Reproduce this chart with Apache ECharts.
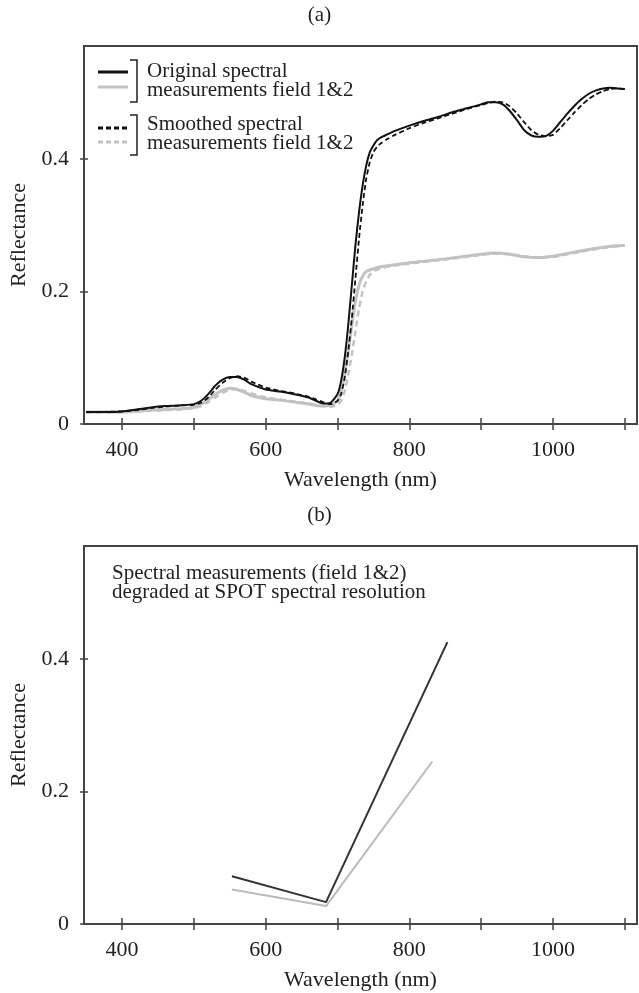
<!DOCTYPE html>
<html>
<head>
<meta charset="utf-8">
<script src="https://cdn.jsdelivr.net/npm/echarts@6/dist/echarts.min.js"></script>
<style>
  html, body { margin: 0; padding: 0; background: #fff; }
  #main { width: 639px; height: 993px; }
</style>
</head>
<body>
<div id="main"></div>
<script>
// wavelength (nm) and reflectance
var wlOrig1 = [350, 380, 400, 420, 440, 460, 480, 500, 510, 520, 530, 540, 550, 560, 570, 580, 600, 620, 640, 660, 670, 680, 690, 700, 705, 710, 715, 720, 725, 730, 735, 740, 745, 750, 755, 760, 770, 780, 800, 820, 840, 860, 880, 900, 910, 920, 930, 940, 950, 960, 970, 980, 990, 1000, 1010, 1020, 1030, 1040, 1050, 1060, 1070, 1080, 1090, 1100]
var orig1 = [0.018, 0.018, 0.019, 0.022, 0.025, 0.027, 0.028, 0.030, 0.035, 0.045, 0.058, 0.067, 0.071, 0.071, 0.067, 0.060, 0.052, 0.049, 0.045, 0.040, 0.035, 0.031, 0.032, 0.045, 0.065, 0.10, 0.15, 0.21, 0.27, 0.32, 0.36, 0.39, 0.41, 0.42, 0.428, 0.432, 0.437, 0.442, 0.450, 0.457, 0.463, 0.470, 0.476, 0.482, 0.485, 0.485, 0.482, 0.472, 0.458, 0.443, 0.435, 0.433, 0.434, 0.442, 0.455, 0.468, 0.480, 0.490, 0.498, 0.503, 0.506, 0.507, 0.506, 0.505]

var wlSmooth1 = [350, 400, 420, 440, 460, 480, 500, 510, 520, 530, 540, 550, 560, 570, 580, 600, 620, 640, 660, 670, 680, 690, 700, 705, 710, 715, 720, 725, 730, 735, 740, 745, 750, 755, 760, 770, 780, 800, 820, 840, 860, 880, 900, 910, 920, 930, 940, 950, 960, 970, 980, 990, 1000, 1010, 1020, 1030, 1040, 1050, 1060, 1070, 1080, 1090, 1100]
var smooth1 = [0.018, 0.019, 0.021, 0.024, 0.026, 0.028, 0.029, 0.032, 0.040, 0.052, 0.062, 0.069, 0.072, 0.070, 0.064, 0.055, 0.050, 0.046, 0.041, 0.037, 0.033, 0.030, 0.035, 0.045, 0.07, 0.11, 0.16, 0.22, 0.28, 0.33, 0.37, 0.395, 0.41, 0.418, 0.423, 0.430, 0.436, 0.446, 0.454, 0.461, 0.468, 0.475, 0.481, 0.484, 0.486, 0.485, 0.479, 0.468, 0.455, 0.443, 0.436, 0.434, 0.436, 0.446, 0.458, 0.470, 0.481, 0.490, 0.497, 0.502, 0.505, 0.506, 0.505]

var wlOrig2 = [350, 400, 440, 480, 500, 510, 520, 530, 540, 550, 560, 570, 580, 600, 620, 640, 660, 670, 680, 690, 700, 705, 710, 715, 720, 725, 730, 735, 740, 750, 760, 780, 800, 850, 900, 920, 940, 960, 980, 1000, 1020, 1050, 1080, 1100]
var orig2 = [0.018, 0.018, 0.021, 0.023, 0.025, 0.030, 0.037, 0.045, 0.051, 0.054, 0.052, 0.048, 0.043, 0.038, 0.036, 0.033, 0.030, 0.028, 0.027, 0.028, 0.035, 0.05, 0.075, 0.11, 0.15, 0.185, 0.21, 0.223, 0.23, 0.234, 0.237, 0.240, 0.243, 0.249, 0.256, 0.258, 0.256, 0.252, 0.251, 0.253, 0.257, 0.263, 0.268, 0.269]

var wlSmooth2 = [350, 400, 440, 480, 500, 510, 520, 530, 540, 550, 560, 570, 580, 600, 620, 640, 660, 670, 680, 690, 700, 705, 710, 715, 720, 725, 730, 735, 740, 745, 750, 760, 780, 800, 850, 900, 920, 940, 960, 980, 1000, 1020, 1050, 1080, 1100]
var smooth2 = [0.017, 0.018, 0.020, 0.022, 0.024, 0.027, 0.033, 0.040, 0.047, 0.052, 0.053, 0.050, 0.046, 0.040, 0.037, 0.034, 0.031, 0.029, 0.027, 0.026, 0.029, 0.035, 0.05, 0.075, 0.105, 0.14, 0.175, 0.20, 0.215, 0.225, 0.23, 0.235, 0.239, 0.242, 0.248, 0.255, 0.257, 0.256, 0.253, 0.251, 0.252, 0.256, 0.262, 0.267, 0.269]

// SPOT bands (b)
var wlSpot1 = [553, 684, 853]
var spot1 = [0.072, 0.033, 0.425]
var wlSpot2 = [553, 684, 832]
var spot2 = [0.052, 0.027, 0.245]

var xTicks = [400, 500, 600, 700, 800, 900, 1000, 1100]
var xLabels = [400, 600, 800, 1000]
var yTicks = [0, 0.2, 0.4]

var font = 'Liberation Serif'

function pairs(xs, ys) {
  var out = []
  for (var i = 0; i < xs.length; i++) {
    out.push([xs[i], ys[i]])
  }
  return out
}

// one pair of axes per grid: outer ticks + labels, and a second one for inner ticks
function makeX(grid, inner) {
  return {
    type: 'value', gridIndex: grid, min: 347, max: 1117, position: 'bottom',
    name: inner ? '' : 'Wavelength (nm)', nameLocation: 'middle', nameGap: 45,
    nameTextStyle: { fontFamily: font, fontSize: 22, color: '#222' },
    axisLine: { show: !inner, onZero: false, lineStyle: { color: '#444', width: 2 } },
    axisTick: { show: true, inside: inner, length: 6, customValues: xTicks, lineStyle: { color: '#444', width: 1.5 } },
    axisLabel: {
      show: !inner, customValues: xLabels, margin: 15, fontFamily: font, fontSize: 22, color: '#222',
      formatter: function (v) { return String(v) }
    },
    splitLine: { show: false }
  }
}

function makeY(grid, inner) {
  return {
    type: 'value', gridIndex: grid, min: 0, max: 0.57, position: 'left',
    name: inner ? '' : 'Reflectance', nameLocation: 'middle', nameGap: 52,
    nameTextStyle: { fontFamily: font, fontSize: 22, color: '#222' },
    axisLine: { show: !inner, lineStyle: { color: '#444', width: 2 } },
    axisTick: { show: true, inside: inner, length: 4, customValues: yTicks, lineStyle: { color: '#444', width: 1.5 } },
    axisLabel: { show: !inner, customValues: yTicks, margin: 15, fontFamily: font, fontSize: 22, color: '#222' },
    splitLine: { show: false }
  }
}

function lineSeries(name, xi, data, color, width, dash, smooth) {
  return {
    name: name, type: 'line', xAxisIndex: xi, yAxisIndex: xi,
    data: data, showSymbol: false, smooth: smooth || false, silent: true,
    lineStyle: { color: color, width: width, type: dash || 'solid' }
  }
}

function legendLine(y, color, width, dash) {
  return {
    type: 'line', shape: { x1: 98, y1: y, x2: 128, y2: y },
    style: { stroke: color, lineWidth: width, lineDash: dash || null }
  }
}

function bracket(y1, y2) {
  return {
    type: 'polyline', shape: { points: [[130, y1], [137, y1], [137, y2], [130, y2]] },
    style: { stroke: '#222', lineWidth: 1.5, fill: null }
  }
}

function label(x, y, text) {
  return {
    type: 'text', x: x, y: y,
    style: { text: text, fontFamily: font, fontSize: 21, fill: '#222', lineHeight: 19 }
  }
}

function setOption(chart) {
  var option = {
    animation: false,
    backgroundColor: '#fff',
    grid: [
      { left: 84, top: 46, width: 553, height: 378, show: true, borderColor: '#444', borderWidth: 2 },
      { left: 84, top: 546, width: 553, height: 378, show: true, borderColor: '#444', borderWidth: 2 }
    ],
    xAxis: [makeX(0, false), makeX(0, true), makeX(1, false), makeX(1, true)],
    yAxis: [makeY(0, false), makeY(0, true), makeY(1, false), makeY(1, true)],
    series: [
      lineSeries('orig2', 0, pairs(wlOrig2, orig2), '#c2c2c2', 3, null, 0.2),
      lineSeries('smooth2', 0, pairs(wlSmooth2, smooth2), '#c2c2c2', 2.5, [6, 4], 0.2),
      lineSeries('smooth1', 0, pairs(wlSmooth1, smooth1), '#111', 1.8, [5, 3], 0.2),
      lineSeries('orig1', 0, pairs(wlOrig1, orig1), '#111', 2, null, 0.2),
      lineSeries('spot2', 2, pairs(wlSpot2, spot2), '#bbb', 2),
      lineSeries('spot1', 2, pairs(wlSpot1, spot1), '#333', 2)
    ],
    graphic: [
      { type: 'text', left: 'center', top: 5, style: { text: '(a)', fontFamily: font, fontSize: 21, fill: '#222' } },
      { type: 'text', left: 'center', top: 505, style: { text: '(b)', fontFamily: font, fontSize: 21, fill: '#222' } },
      legendLine(72, '#111', 3),
      legendLine(87, '#c2c2c2', 3),
      bracket(60, 102),
      label(147, 62, 'Original spectral\nmeasurements field 1&2'),
      legendLine(128, '#111', 3, [5, 3]),
      legendLine(142, '#c2c2c2', 3, [5, 3]),
      bracket(115, 155),
      label(147, 115, 'Smoothed spectral\nmeasurements field 1&2'),
      label(112, 564, 'Spectral measurements (field 1&2)\ndegraded at SPOT spectral resolution')
    ]
  }
  chart.setOption(option)
}

var chart = echarts.init(document.getElementById('main'), null, { renderer: 'canvas' })
setOption(chart)
</script>
</body>
</html>
